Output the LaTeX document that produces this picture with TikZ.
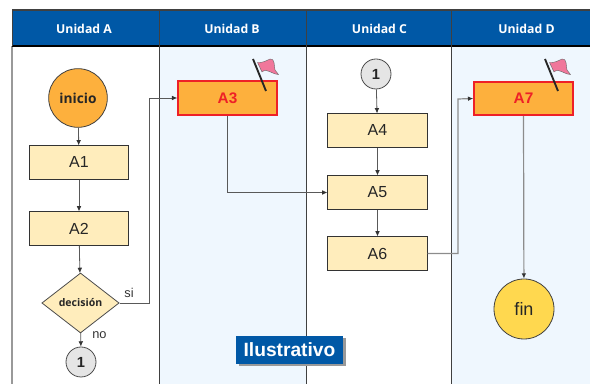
\documentclass[tikz,border=0pt]{standalone}
\usepackage{fontspec}
\setmainfont{Liberation Sans}
\newfontfamily\headfont{Open Sans}
\usepackage{xcolor}
\usepackage{tikz}
\usetikzlibrary{arrows.meta}
\usetikzlibrary{shapes.geometric}
\usetikzlibrary{positioning}
\definecolor{headblue}{HTML}{0058A6}
\definecolor{paleblue}{HTML}{EFF7FE}
\definecolor{boxcream}{HTML}{FFEDBC}
\definecolor{boxorange}{HTML}{FDB03D}
\definecolor{markred}{HTML}{EE2027}
\definecolor{fingold}{HTML}{FFD84F}
\definecolor{flagpink}{HTML}{F0779B}
\tikzset{
  headlabel/.style={text=white,font=\headfont\bfseries\fontsize{9.2}{11}\selectfont},
  taskbox/.style={draw=black!80,fill=boxcream,minimum width=74.5pt,minimum height=25pt,inner sep=0pt,line width=0.6pt,font=\fontsize{12}{14}\selectfont,text=black!85},
  keybox/.style={draw=markred,fill=boxorange,minimum width=74pt,minimum height=25pt,inner sep=0pt,line width=1.3pt,text=markred,font=\bfseries\fontsize{11.5}{13}\selectfont},
  linkcircle/.style={circle,draw=black!70,fill=black!10,minimum size=22.5pt,inner sep=0pt,line width=0.6pt,font=\bfseries\fontsize{11}{13}\selectfont,text=black!85},
  flowline/.style={draw=black!65,line width=0.6pt,-{Latex[length=4pt,width=3.5pt,color=black!80]}},
  flowlinegray/.style={draw=black!45,line width=0.9pt,-{Latex[length=4pt,width=3.5pt,color=black!80]}},
  sidelabel/.style={font=\fontsize{9.6}{11}\selectfont,text=black!80}
}
\begin{document}
\begin{tikzpicture}[x=0.75pt,y=0.75pt,yscale=-1,xscale=1]
\useasboundingbox (0,0) rectangle (590,384);

%Bands
\fill [paleblue] (159,46) rectangle (306,384);
\fill [paleblue] (451,46) rectangle (590,384);
\fill [headblue] (12,10) rectangle (590,46);

%Straight Lines
\draw [black!40,line width=0.9pt] (12,46) -- (12,384);
\draw [black!75,line width=0.9pt] (12,10) -- (590,10);
\draw [black,line width=0.8pt] (12,46) -- (590,46);
\draw [black!75,line width=0.6pt] (12,10) -- (12,46);
\foreach \colx in {159,306,451} {
  \draw [black!75,line width=0.6pt] (\colx,10) -- (\colx,384);
}

%Headers
\node [headlabel] (headA) at (84,28.5) {Unidad A};
\node [headlabel] (headB) at (232,28.5) {Unidad B};
\node [headlabel] (headC) at (379.5,28.5) {Unidad C};
\node [headlabel] (headD) at (526.5,28.5) {Unidad D};

%Shapes
\node [circle,draw=black!75,fill=boxorange,minimum size=44pt,inner sep=0pt,line width=0.6pt,font=\headfont\bfseries\fontsize{10.3}{12}\selectfont,text=black!85] (inicio) at (78,98) {inicio};
\node [taskbox] (A1) at (79,162.5) {A1};
\node [taskbox] (A2) at (79,228.5) {A2};
\node [diamond,aspect=1.28,draw=black!70,fill=boxcream,minimum width=58pt,minimum height=45pt,inner sep=0pt,line width=0.6pt,font=\headfont\bfseries\fontsize{7.9}{9}\selectfont,text=black!85] (decision) at (80.5,303) {decisión};
\node [linkcircle] (linkA) at (81,362) {1};
\node [keybox] (A3) at (227.5,98) {A3};
\node [linkcircle] (linkC) at (376,74) {1};
\node [taskbox] (A4) at (377.5,130.5) {A4};
\node [taskbox] (A5) at (377.5,192.5) {A5};
\node [taskbox] (A6) at (377.5,253.5) {A6};
\node [keybox] (A7) at (523.5,98.5) {A7};
\node [circle,draw=black!75,fill=fingold,minimum size=45pt,inner sep=0pt,line width=0.6pt,font=\fontsize{13.5}{15}\selectfont,text=black!85] (fin) at (524,309) {fin};

%Labels
\node [sidelabel] (labelsi) at (129,293) {si};
\node [sidelabel] (labelno) at (99.5,335) {no};

%Connectors
\draw [flowline] (inicio) -- (A1);
\draw [flowline] (A1) -- (A2);
\draw [flowline] (A2) -- (decision);
\draw [flowline] (decision) -- (linkA);
\draw [flowline] (decision.east) -| (149,98) -- (A3.west);
\draw [flowline] (A3.south) |- (A5.west);
\draw [flowline] (linkC) -- (A4);
\draw [flowline] (A4) -- (A5);
\draw [flowline] (A5) -- (A6);
\draw [flowlinegray] (A6.east) -| (458,99) -- (A7.west);
\draw [flowlinegray] (A7.south) -- (fin);

%Flags
\foreach \flagx/\flagy in {0/0,292/0} {
  \begin{scope}[shift={(\flagx,\flagy)}]
    \fill [flagpink,draw=black!60,line width=0.3pt] (257.5,62.5) .. controls (262,63) and (266,61) .. (270,59) .. controls (275,58) and (274,66) .. (275,70) .. controls (276,72) and (277,73) .. (278.5,74.5) .. controls (274,74.5) and (270,71) .. (266,70.5) .. controls (264,70.5) and (263,71) .. (262,72) -- cycle;
    \draw [black!85,line width=1.4pt] (253,59) -- (266,91);
  \end{scope}
}

%Stamp
\fill [black!40] (238.5,338.5) rectangle (345.5,366.5);
\node [fill=headblue,text=white,minimum width=80pt,minimum height=21pt,inner sep=0pt,font=\bfseries\fontsize{14.4}{16}\selectfont] (stamp) at (289.5,350) {Ilustrativo};

\end{tikzpicture}
\end{document}
